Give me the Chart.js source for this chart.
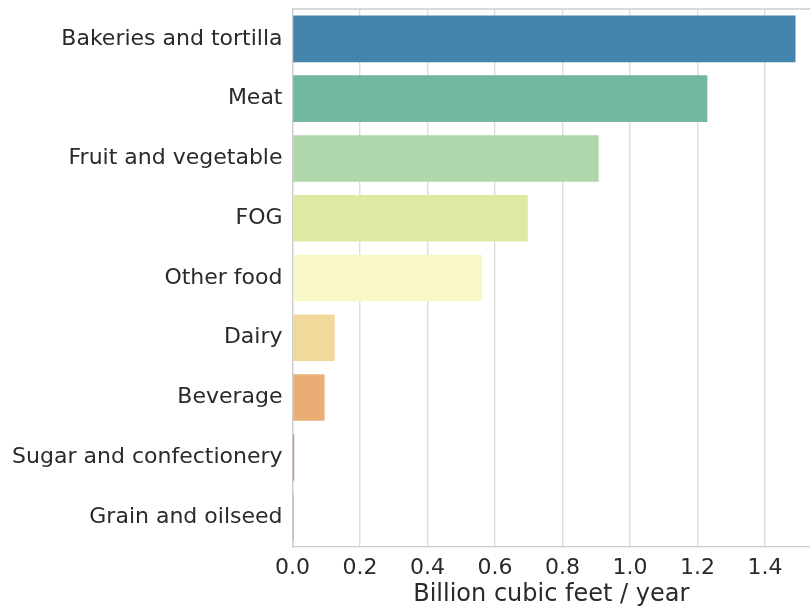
<!DOCTYPE html>
<html>
<head>
<meta charset="utf-8">
<script src="https://cdn.jsdelivr.net/npm/chart.js@4"></script>
<style>
  html, body { margin: 0; padding: 0; background: #fff; }
  #wrap { width: 810px; height: 609px; }
</style>
</head>
<body>
<div id="wrap"><canvas id="chart"></canvas></div>
<script>
var categories = ['Bakeries and tortilla', 'Meat', 'Fruit and vegetable', 'FOG', 'Other food',
    'Dairy', 'Beverage', 'Sugar and confectionery', 'Grain and oilseed'];
var volumes = [1.49, 1.229, 0.907, 0.697, 0.562, 0.125, 0.095, 0.005, 0.003];
var barColors = ['#4384ac', '#71b7a1', '#b0d6ab', '#deeaa4', '#f7f7c7',
    '#f0d99a', '#eaae75', '#de7959', '#c2515e'];
var axisTitle = 'Billion cubic feet / year';

var textColor = '#2a2a2a';
var font = {family: 'DejaVu Sans', size: 22};

// top spine
var topSpine = {
    id: 'topSpine',
    afterDraw: function (chart) {
        var ctx = chart.ctx, a = chart.chartArea;
        ctx.save();
        ctx.strokeStyle = '#cccccc';
        ctx.lineWidth = 1.3;
        ctx.beginPath();
        ctx.moveTo(a.left, a.top);
        ctx.lineTo(a.right, a.top);
        ctx.stroke();
        ctx.restore();
    }
};

var ctx = document.getElementById('chart').getContext('2d');
new Chart(ctx, {
    type: 'bar',
    data: {
        labels: categories,
        datasets: [{
            data: volumes,
            backgroundColor: barColors,
            barPercentage: 0.78,
            categoryPercentage: 1.0
        }]
    },
    plugins: [topSpine],
    options: {
        indexAxis: 'y',
        responsive: true,
        maintainAspectRatio: false,
        animation: false,
        layout: {padding: {top: 9, right: 0, left: 0, bottom: 0}},
        plugins: {
            legend: {display: false},
            tooltip: {enabled: false}
        },
        scales: {
            x: {
                min: 0,
                max: 1.533,
                afterFit: function (scale) {
                    scale.height = 62;
                    scale.paddingLeft = 0;
                    scale.paddingRight = 0;
                },
                ticks: {
                    stepSize: 0.2,
                    includeBounds: false,
                    color: textColor,
                    font: font,
                    padding: 8,
                    maxRotation: 0,
                    callback: function (v) { return v.toFixed(1); }
                },
                grid: {color: '#dddddd', lineWidth: 1.4, drawTicks: false},
                border: {color: '#cccccc', width: 1.3},
                title: {
                    display: true,
                    text: axisTitle,
                    color: textColor,
                    font: {family: 'DejaVu Sans', size: 24},
                    padding: {top: 0, bottom: 0}
                }
            },
            y: {
                afterFit: function (scale) {
                    scale.width = 292.5;
                    scale.paddingTop = 0;
                    scale.paddingBottom = 0;
                },
                ticks: {color: textColor, font: font, padding: 10},
                grid: {display: false, drawTicks: false},
                border: {color: '#cccccc', width: 1.3}
            }
        }
    }
});
</script>
</body>
</html>
